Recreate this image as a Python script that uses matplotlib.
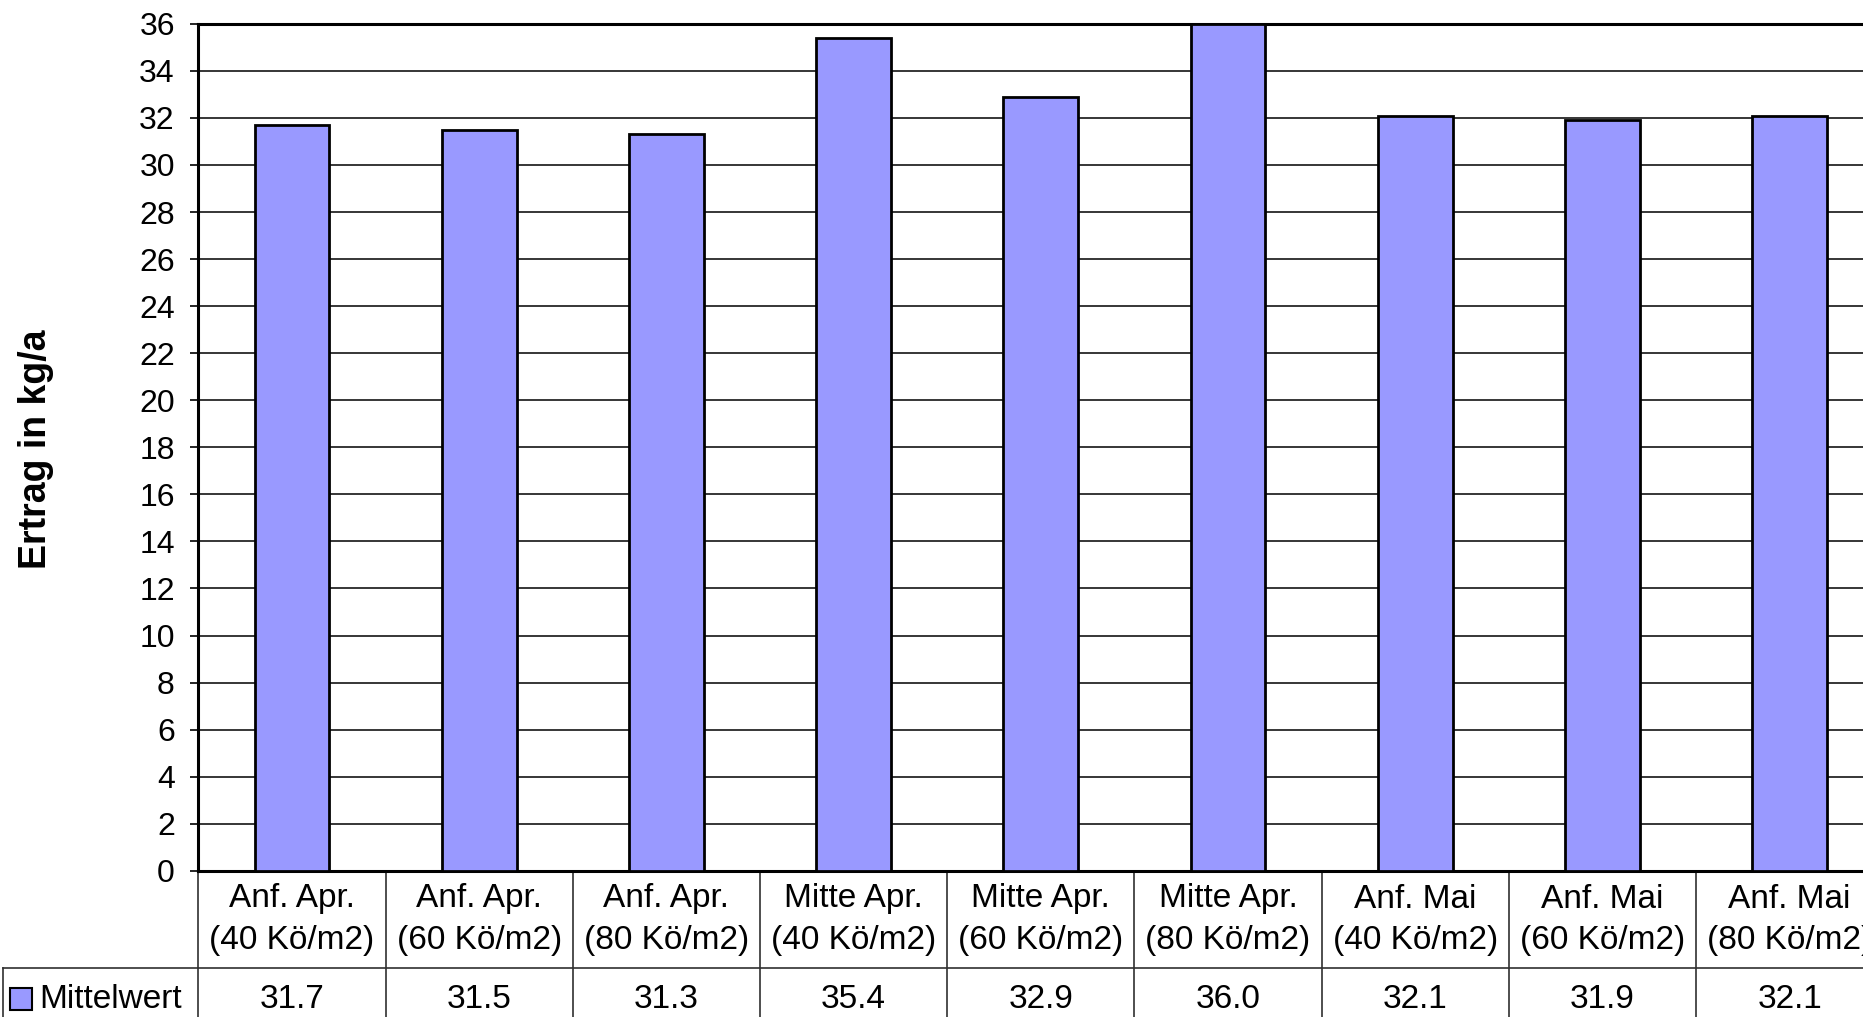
import matplotlib
matplotlib.use('Agg')
import matplotlib.pyplot as plt
import matplotlib.transforms as mtransforms
from matplotlib.lines import Line2D
from matplotlib.patches import Rectangle

plt.rcParams['font.family'] = ['Liberation Sans', 'DejaVu Sans']

# data
sowing = ['Anf. Apr.', 'Anf. Apr.', 'Anf. Apr.',
          'Mitte Apr.', 'Mitte Apr.', 'Mitte Apr.',
          'Anf. Mai', 'Anf. Mai', 'Anf. Mai']
density = ['(40 Kö/m2)', '(60 Kö/m2)', '(80 Kö/m2)'] * 3
mittelwert = [31.7, 31.5, 31.3, 35.4, 32.9, 36.0, 32.1, 31.9, 32.1]
series_name = 'Mittelwert'
y_ticks = list(range(0, 37, 2))

W, H = 1863, 1017
bar_color = '#9999FF'

fig = plt.figure(figsize=(W / 100, H / 100), dpi=100)

# plot area in pixels (from top-left)
left_px, zero_px, top_px, col_px = 198.4, 870.8, 23.8, 187.2
n = len(mittelwert)
ax = fig.add_axes([left_px / W, (H - zero_px) / H,
                   n * col_px / W, (zero_px - top_px) / H])

x = list(range(n))
ax.bar(x, mittelwert, width=0.4, color=bar_color, edgecolor='black',
       linewidth=2, zorder=3)

ax.set_xlim(-0.5, n - 0.5)
ax.set_ylim(0, 36)
ax.set_yticks(y_ticks)
ax.set_xticks([])
ax.yaxis.grid(True, color='black', linewidth=1.1)
ax.set_axisbelow(True)
ax.tick_params(axis='y', direction='out', length=6, width=1.2, pad=11,
               labelsize=23, colors='black')
for side in ['left', 'top', 'bottom']:
    ax.spines[side].set_linewidth(2.2)
    ax.spines[side].set_color('black')
ax.spines['right'].set_visible(False)

fig.text(35.6 / W, 1 - 449 / H, 'Ertrag in kg/a', rotation=90, ha='center',
         va='center', fontsize=27, fontweight='bold')

# data table below the axis
blend = mtransforms.blended_transform_factory(ax.transData, ax.transAxes)
plot_h = zero_px - top_px


def ay(py):
    return (zero_px - py) / plot_h


row_split = 968
line_kw = dict(color='#303030', linewidth=1.2, clip_on=False)
for k in range(n + 1):
    xb = k - 0.5
    ax.plot([xb, xb], [ay(zero_px), ay(H + 5)], transform=blend, **line_kw)
ax.plot([-0.5, n - 0.5], [ay(row_split), ay(row_split)], transform=blend, **line_kw)

for i in range(n):
    ax.text(i, ay(899), sowing[i], transform=blend, ha='center', va='center',
            fontsize=24)
    ax.text(i, ay(941), density[i], transform=blend, ha='center', va='center',
            fontsize=24)
    ax.text(i, ay(999), f'{mittelwert[i]:.1f}', transform=blend, ha='center',
            va='center', fontsize=24)

# legend cell on the left of the value row
fig.add_artist(Line2D([3 / W, left_px / W], [1 - row_split / H, 1 - row_split / H],
                      transform=fig.transFigure, color='#303030', linewidth=1.2))
fig.add_artist(Line2D([3 / W, 3 / W], [1 - row_split / H, 0],
                      transform=fig.transFigure, color='#303030', linewidth=1.2))
fig.add_artist(Rectangle((10 / W, 1 - 1010 / H), 22 / W, 22 / H,
                         transform=fig.transFigure, facecolor=bar_color,
                         edgecolor='black', linewidth=1.5))
fig.text(39 / W, 1 - 999 / H, series_name, ha='left', va='center', fontsize=24)

fig.savefig('out.png', dpi=100)
